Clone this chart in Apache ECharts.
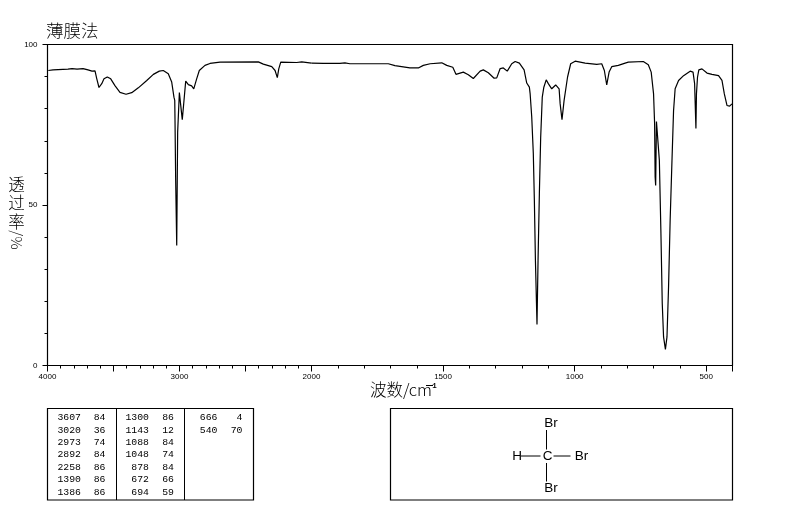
<!DOCTYPE html>
<html><head><meta charset="utf-8">
<style>html,body{margin:0;padding:0;background:#fff}#c{width:794px;height:510px}</style>
<script src="https://cdn.jsdelivr.net/npm/echarts@6/dist/echarts.min.js"></script>
</head><body><div id="c"></div>
<script>
const wnHigh=[3994,3958,3845,3814,3776,3731,3693,3663,3640,3627,3610,3589,3572,3547,3521,3489,3451,3405,3362,3312,3248,3198,3153,3123,3085,3059,3042,3036,3034,3029,3021,3014,3001,2991,2979,2968,2953,2933,2908,2892,2870,2850,2807,2769,2693,2403,2365,2301,2276,2259,2248,2233,2112,2074,2000];
const tHigh=[91.9,92.1,92.3,92.5,92.3,92.5,92.1,91.7,91.8,89.4,86.6,87.8,89.3,89.9,89.3,87.2,85.1,84.5,85,86.5,88.8,90.7,91.7,91.9,90.9,88.3,83.6,82.6,76.3,57.7,37.4,72.7,85,84.6,76.6,81.6,88.6,87.5,87.1,86.2,89.3,91.9,93.5,94.1,94.5,94.6,93.9,93.1,91.9,89.7,92.4,94.5,94.4,94.6,94.2];
const wnLow=[2000,1955,1892,1873,1854,1708,1683,1664,1626,1594,1575,1549,1505,1486,1463,1451,1423,1404,1385,1359,1347,1328,1306,1296,1283,1271,1256,1239,1226,1210,1192,1182,1172,1169,1163,1157,1153,1149,1143,1139,1134,1129,1123,1117,1108,1100,1087,1072,1059,1055,1048,1040,1027,1015,998,960,916,897,887,878,869,859,834,808,796,739,720,709,700,696,694,692,689,684,683,678,672,667,662,655,649,643,637,630,624,618,605,586,561,550,544,539,537,533,528,516,497,478,453,440,431,421,411,402];
const tLow=[94.2,94.1,94.1,94.3,94,94,93.4,93.2,92.7,92.7,93.5,94,94.3,93.5,92.9,90.7,91.4,90.6,89.4,91.7,92.1,91.2,89.5,89.6,92.5,92.7,91.7,94,94.7,94.2,92.1,88,86.7,84.6,77.4,66,51.4,32.8,12.8,32.8,53.5,71.1,83.6,86.7,89,87.8,86.2,87.4,86.2,81.5,76.6,82.6,89.8,94,94.8,94.2,93.8,94,91.9,87.4,91.4,93.1,93.5,94.2,94.5,94.7,93.7,91.4,84.6,75.3,58.7,56.1,76,76.3,75.7,63.9,41.2,19.4,8.9,5,8.9,24.5,45.2,63.9,79.4,86.2,88.8,90.3,91.7,91.4,87.8,73.8,84.6,89.8,92.1,92.4,91.1,90.7,90.3,88.8,84.6,81,80.8,81.5];
const peakCol1=[['3607','84'],['3020','36'],['2973','74'],['2892','84'],['2258','86'],['1390','86'],['1386','86']];
const peakCol2=[['1300','86'],['1143','12'],['1088','84'],['1048','74'],['878','84'],['672','66'],['694','59']];
const peakCol3=[['666','4'],['540','70']];
const titleText='薄膜法';
const xTitleText='波数/cm';
const yTitleChars=['透','过','率'];
const labeledLow=[500,1000,1500];
const labeledHigh=[4000,3000,2000];

const BLK='#000';
const CJK='"Noto Sans CJK SC"';
const NUM='"Liberation Mono"';
const g=[];
function text(x,y,s,o){g.push({type:'text',silent:true,x,y,rotation:(o&&o.rot)||0,style:Object.assign({text:s,fill:BLK,font:'12px '+CJK,textAlign:'center',textVerticalAlign:'middle'},o&&o.style)});}
function line(x1,y1,x2,y2){g.push({type:'line',silent:true,shape:{x1,y1,x2,y2},style:{stroke:BLK,lineWidth:1}});}
function rect(x,y,w,h){g.push({type:'rect',silent:true,shape:{x,y,width:w,height:h},style:{fill:'none',stroke:BLK,lineWidth:1.2}});}

text(46,30.5,titleText,{style:{font:'300 17.5px '+CJK,textAlign:'left'}});
text(370,389.5,xTitleText,{style:{font:'300 16.5px '+CJK,textAlign:'left'}});
line(426,385.5,433,385.5);
text(434.5,386,'1',{style:{font:'bold 7.5px '+NUM}});
yTitleChars.forEach((c,i)=>text(16.5,185+i*18.2,c,{style:{font:'300 16.5px '+CJK}}));
text(16.5,240,'/%',{rot:-Math.PI/2,style:{font:'300 15px '+CJK}});

rect(47.5,408.5,206,91.5);
line(116.5,408.5,116.5,500);
line(184.5,408.5,184.5,500);
const numFont='9.8px '+NUM;
[[peakCol1,81,105.5],[peakCol2,149,174],[peakCol3,217.5,242.5]].forEach(([col,a,b])=>{
  col.forEach((r,i)=>{
    const y=417.5+i*12.45;
    text(a,y,r[0],{style:{font:numFont,textAlign:'right'}});
    text(b,y,r[1],{style:{font:numFont,textAlign:'right'}});
  });
});

rect(390.5,408.5,342,91.5);
const brFont='13.5px "Liberation Sans"';
text(551,423,'Br',{style:{font:brFont}});
text(551,488.5,'Br',{style:{font:brFont}});
text(581.5,456,'Br',{style:{font:brFont}});
text(547.5,456,'C',{style:{font:brFont}});
text(517,456,'H',{style:{font:brFont}});
line(546.5,430,546.5,449.5);
line(546.5,463,546.5,481.5);
line(521,456,540.5,456);
line(553.5,456,570.5,456);

const lbl={color:BLK,fontFamily:'"Liberation Sans"',fontSize:8,margin:7};
const axLine={show:true,onZero:false,lineStyle:{color:BLK,width:1.2}};
const off={show:false};
const tickStyle={color:BLK,width:1};
const chart=echarts.init(document.getElementById('c'),null,{renderer:'canvas'});
chart.setOption({
  backgroundColor:'#fff',animation:false,
  grid:[
    {left:47.5,top:44.5,width:264,height:321,show:false},
    {left:311.5,top:44.5,width:421,height:321,show:false}
  ],
  xAxis:[
    {gridIndex:0,type:'value',inverse:true,min:2000,max:4000,interval:500,position:'bottom',axisLine:axLine,
      axisTick:{show:true,length:6,lineStyle:tickStyle},minorTick:{show:true,splitNumber:5,length:3,lineStyle:tickStyle},
      splitLine:off,minorSplitLine:off,
      axisLabel:Object.assign({},lbl,{showMinLabel:true,showMaxLabel:true,hideOverlap:false,formatter:v=>labeledHigh.includes(v)?String(v):''})},
    {gridIndex:1,type:'value',inverse:true,min:400,max:2000,interval:100,position:'bottom',axisLine:axLine,
      axisTick:{show:true,length:3,lineStyle:tickStyle},splitLine:off,axisLabel:off},
    {gridIndex:1,type:'value',inverse:true,min:400,max:2000,position:'bottom',axisLine:off,
      axisTick:{show:true,length:6,customValues:labeledLow.concat([400]),lineStyle:tickStyle},splitLine:off,
      axisLabel:Object.assign({},lbl,{customValues:labeledLow,formatter:v=>String(v)})},
    {gridIndex:0,type:'value',inverse:true,min:2000,max:4000,position:'top',axisLine:axLine,axisTick:off,axisLabel:off,splitLine:off},
    {gridIndex:1,type:'value',inverse:true,min:400,max:2000,position:'top',axisLine:axLine,axisTick:off,axisLabel:off,splitLine:off}
  ],
  yAxis:[
    {gridIndex:0,type:'value',min:0,max:100,interval:50,position:'left',axisLine:axLine,
      axisTick:{show:true,length:5,lineStyle:tickStyle},minorTick:{show:true,splitNumber:5,length:3,lineStyle:tickStyle},
      splitLine:off,minorSplitLine:off,axisLabel:Object.assign({},lbl,{margin:10})},
    {gridIndex:1,type:'value',min:0,max:100,interval:50,position:'right',axisLine:axLine,axisTick:off,axisLabel:off,splitLine:off}
  ],
  series:[
    {type:'line',xAxisIndex:0,yAxisIndex:0,symbol:'none',silent:true,clip:false,lineStyle:{color:BLK,width:1.2},data:wnHigh.map((w,i)=>[w,tHigh[i]])},
    {type:'line',xAxisIndex:1,yAxisIndex:1,symbol:'none',silent:true,clip:false,lineStyle:{color:BLK,width:1.2},data:wnLow.map((w,i)=>[w,tLow[i]])}
  ],
  graphic:{elements:g}
});
</script></body></html>
